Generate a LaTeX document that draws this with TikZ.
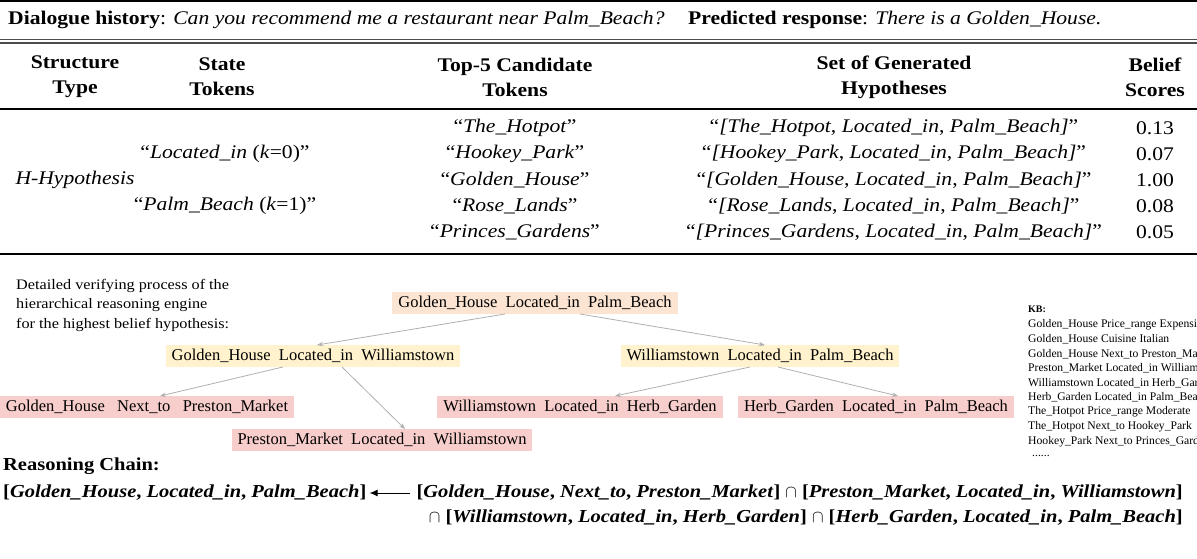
\documentclass[tikz,border=0pt]{standalone}
\usepackage{fontspec}
\setmainfont{Liberation Serif}
\newfontfamily\widefont{Liberation Serif}[FakeStretch=1.12]
\usetikzlibrary{arrows.meta, positioning}
\usepackage{xcolor}
\definecolor{peach}{RGB}{252,228,210}
\definecolor{lightyellow}{RGB}{255,242,204}
\definecolor{lightpink}{RGB}{248,206,204}
\definecolor{edgegray}{RGB}{175,175,175}

\begin{document}
\begin{tikzpicture}[
        x=1pt, y=-1pt,
        tabletext/.style={font=\widefont\fontsize{19.3}{25}\selectfont, inner sep=0pt},
        headtext/.style={tabletext, font=\widefont\fontsize{19.3}{25}\selectfont\bfseries, align=center},
        factnode/.style={inner xsep=6pt, inner ysep=4pt, font=\fontsize{16.5}{19}\selectfont},
        rootnode/.style={factnode, fill=peach},
        midnode/.style={factnode, fill=lightyellow},
        leafnode/.style={factnode, fill=lightpink},
        verify/.style={draw=edgegray, line width=0.8pt, -{Stealth[length=6pt, width=4.5pt]}},
        kbtext/.style={font=\fontsize{11.65}{14}\selectfont, anchor=west, inner sep=0pt},
        chaintext/.style={font=\widefont\fontsize{18.3}{22}\selectfont\bfseries, inner sep=0pt}
        ]
        \useasboundingbox (0,0) rectangle (1197,558);

        %% Table rules
        \draw[line width=2pt] (0,1) -- (1197,1);
        \draw[line width=1.2pt, black!70] (0,39.5) -- (1197,39.5);
        \draw[line width=1.2pt, black!70] (0,43) -- (1197,43);
        \draw[line width=1.4pt] (0,109) -- (1197,109);
        \draw[line width=2.4pt] (0,254) -- (1197,254);

        %% Dialogue line
        \node[tabletext, anchor=west] (dialog) at (8,20) {\textbf{Dialogue history}: \textit{Can you recommend me a restaurant near Palm\_Beach?}};
        \node[tabletext, anchor=west] (response) at (688,20) {\textbf{Predicted response}: \textit{There is a Golden\_House.}};

% Header
        \foreach \x/\name/\head in {75/type/Structure\\Type, 222/state/State\\Tokens, 515/cand/Top-5 Candidate\\Tokens, 894/hyp/Set of Generated\\Hypotheses, 1155/score/Belief\\Scores} {
            \node[headtext] (\name) at (\x,77) {\head};
        }

% Rows
        \node[tabletext] (htype) at (75,180) {\textit{H-Hypothesis}};
        \node[tabletext] (state0) at (225,154) {“\textit{Located\_in} (\textit{k}=0)”};
        \node[tabletext] (state1) at (225,206) {“\textit{Palm\_Beach} (\textit{k}=1)”};
        \foreach \y/\cand/\sc [count=\i] in {128/The\_Hotpot/0.13, 154/Hookey\_Park/0.07, 180/Golden\_House/1.00, 206/Rose\_Lands/0.08, 232/Princes\_Gardens/0.05} {
            \node[tabletext] (cand\i) at (515,\y) {“\textit{\cand}”};
            \node[tabletext] (hyp\i) at (894,\y) {“\textit{[\cand}, \textit{Located\_in}, \textit{Palm\_Beach]}”};
            \node[tabletext] (score\i) at (1155,\y) {\sc};
        }

        %% Verifying tree
        \node[anchor=north west, align=left, inner sep=0pt, font=\widefont\fontsize{14.5}{19.5}\selectfont] (note) at (16,279) {Detailed verifying process of the\\hierarchical reasoning engine\\for the highest belief hypothesis:};

        \node[rootnode] (root) at (535,303) {Golden\_House\ \ Located\_in\ \ Palm\_Beach};
        \node[midnode] (midleft) at (313,356) {Golden\_House\ \ Located\_in\ \ Williamstown};
        \node[midnode] (midright) at (760,356) {Williamstown\ \ Located\_in\ \ Palm\_Beach};
        \node[leafnode] (leafa) at (147,407) {Golden\_House\ \ \ Next\_to\ \ \ Preston\_Market};
        \node[leafnode] (leafb) at (382,440) {Preston\_Market\ \ Located\_in\ \ Williamstown};
        \node[leafnode] (leafc) at (580,407) {Williamstown\ \ Located\_in\ \ Herb\_Garden};
        \node[leafnode] (leafd) at (876,407) {Herb\_Garden\ \ Located\_in\ \ Palm\_Beach};

        \draw[verify] ([xshift=-30pt]root.south) -- ([xshift=4pt]midleft.north);
        \draw[verify] ([xshift=45pt]root.south) -- ([xshift=5pt]midright.north);
        \draw[verify] ([xshift=-30pt]midleft.south) -- ([xshift=13pt]leafa.north);
        \draw[verify] ([xshift=29pt]midleft.south) -- ([xshift=23pt]leafb.north);
        \draw[verify] ([xshift=-10pt]midright.south) -- ([xshift=35pt]leafc.north);
        \draw[verify] ([xshift=18pt]midright.south) -- ([xshift=22pt]leafd.north);

        %% Knowledge base
        \begin{scope}
            \clip (0,0) rectangle (1197,558);
            \node[kbtext, font=\fontsize{10}{12}\selectfont\bfseries] (kb) at (1028,309) {KB:};
            \foreach \fact [count=\i] in {Golden\_House Price\_range Expensive, Golden\_House Cuisine Italian, Golden\_House Next\_to Preston\_Market, Preston\_Market Located\_in Williamstown, Williamstown Located\_in Herb\_Garden, Herb\_Garden Located\_in Palm\_Beach, The\_Hotpot Price\_range Moderate, The\_Hotpot Next\_to Hookey\_Park, Hookey\_Park Next\_to Princes\_Gardens} {
                \node[kbtext] (kb\i) at (1028,310+14.6*\i) {\fact};
            }
            \node[kbtext] (kbmore) at (1032,456) {......};
        \end{scope}

        %% Reasoning chain
        \node[chaintext, anchor=west] (chain) at (3,466) {Reasoning Chain:};
        \node[chaintext, anchor=west] (goal) at (3,493) {[\textit{Golden\_House}, \textit{Located\_in}, \textit{Palm\_Beach}]};
        \node[chaintext, anchor=east] (premise1) at (1183,493) {[\textit{Golden\_House}, \textit{Next\_to}, \textit{Preston\_Market}] $\cap$ [\textit{Preston\_Market}, \textit{Located\_in}, \textit{Williamstown}]};
        \node[chaintext, anchor=east] (premise2) at (1183,518) {$\cap$ [\textit{Williamstown}, \textit{Located\_in}, \textit{Herb\_Garden}] $\cap$ [\textit{Herb\_Garden}, \textit{Located\_in}, \textit{Palm\_Beach}]};
        \draw[line width=1pt, -{Latex[length=8pt, width=7pt]}, shorten >=3pt, shorten <=6pt] (premise1.west) -- (goal.east);
\end{tikzpicture}
\end{document}
